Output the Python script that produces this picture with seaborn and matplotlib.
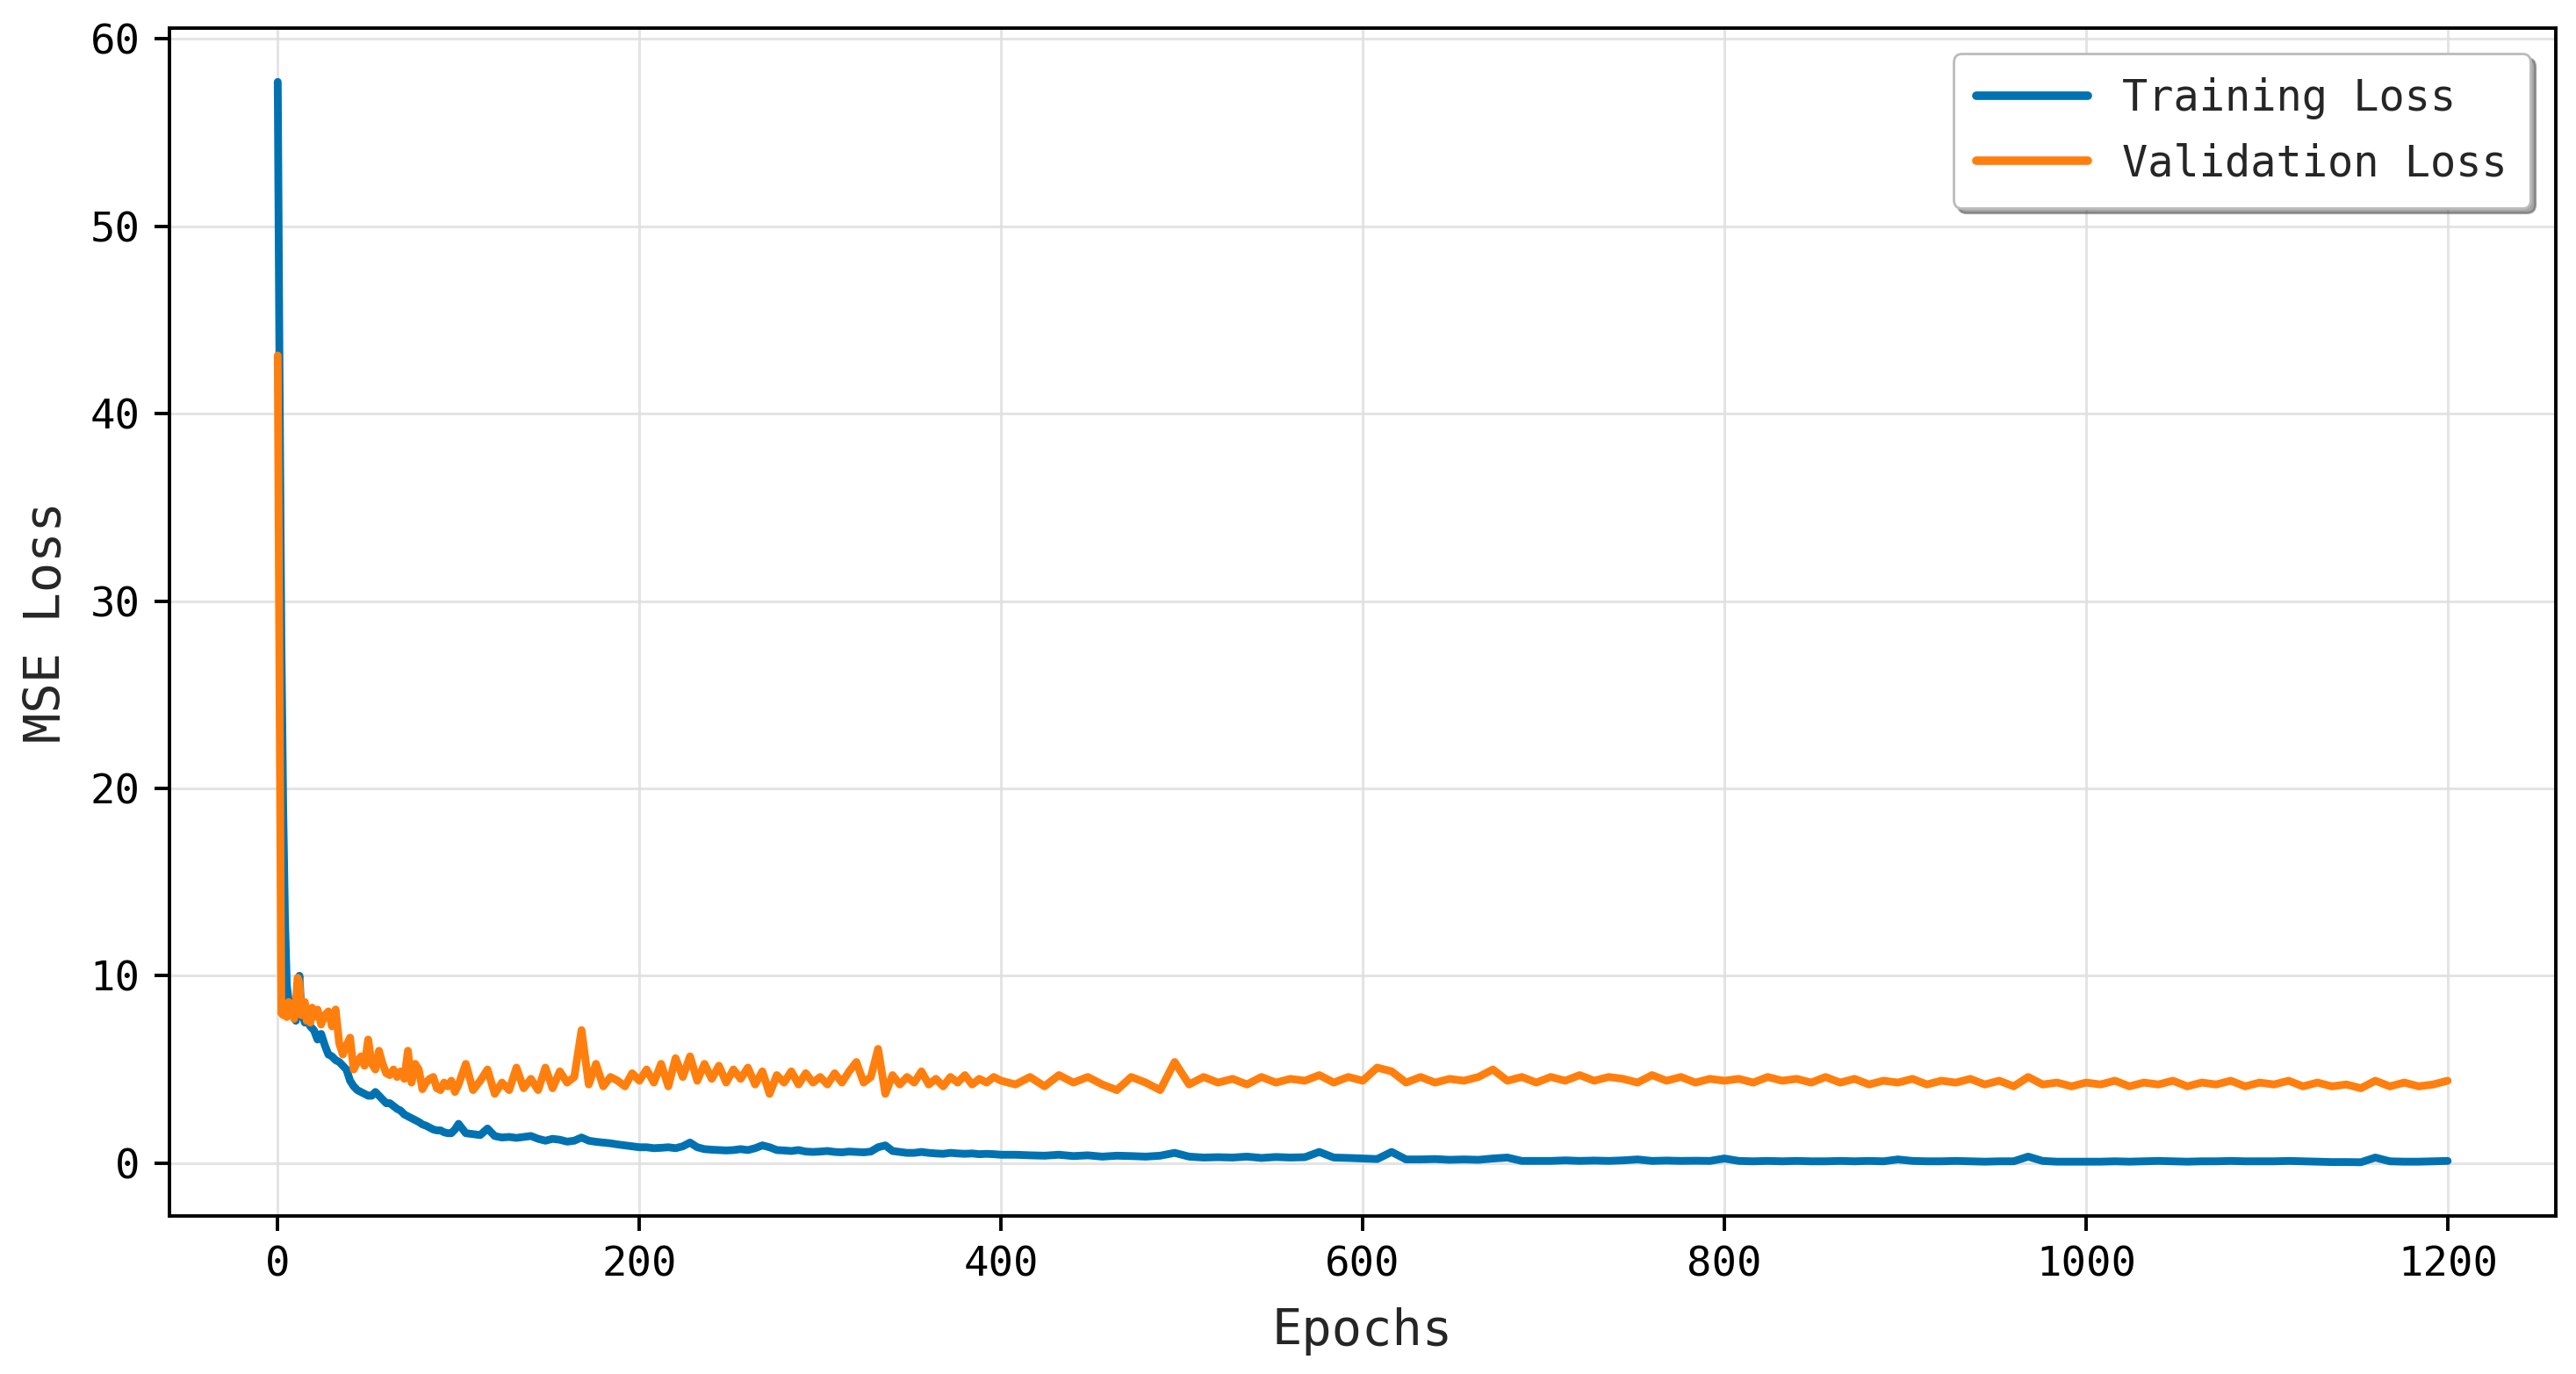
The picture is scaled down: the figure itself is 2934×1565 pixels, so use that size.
import numpy as np
import pandas as pd
import seaborn as sns
from matplotlib import pyplot as plt

sns.set_style('ticks')
plt.rcParams['font.family'] = ['DejaVu Sans Mono', 'DejaVu Sans']

epochs = np.concatenate([np.arange(0, 21), np.arange(22, 101, 2),
                         np.arange(104, 401, 4), np.arange(408, 1201, 8)])

train_a = [57.7, 42.0, 28.0, 19.0, 13.0, 9.5, 8.7, 8.6, 8.4, 7.8,
           7.6, 9.5, 10.0, 8.2, 7.8, 7.5, 7.6, 7.5, 7.3, 7.2, 7.1]
train_b = [6.6, 6.9, 6.3, 5.8, 5.7, 5.5, 5.4, 5.2, 5.0, 4.4,
           4.1, 3.9, 3.8, 3.7, 3.6, 3.6, 3.8, 3.6, 3.4, 3.2,
           3.2, 3.05, 2.9, 2.8, 2.6, 2.5, 2.4, 2.3, 2.2, 2.07,
           2.0, 1.9, 1.8, 1.75, 1.75, 1.65, 1.6, 1.6, 1.8, 2.1]
train_c = [1.6, 1.55, 1.5, 1.85, 1.45, 1.37, 1.4, 1.35, 1.4, 1.45,
           1.3, 1.2, 1.3, 1.25, 1.15, 1.2, 1.37, 1.2, 1.14, 1.1,
           1.06, 1.0, 0.95, 0.9, 0.85, 0.85, 0.8, 0.82, 0.85, 0.8,
           0.9, 1.1, 0.85, 0.75, 0.72, 0.7, 0.68, 0.7, 0.75, 0.7,
           0.8, 0.95, 0.85, 0.7, 0.68, 0.65, 0.7, 0.62, 0.6, 0.62,
           0.65, 0.6, 0.58, 0.62, 0.6, 0.58, 0.62, 0.85, 0.95, 0.65,
           0.6, 0.55, 0.55, 0.6, 0.55, 0.52, 0.5, 0.55, 0.52, 0.5,
           0.52, 0.48, 0.5, 0.48, 0.45]
train_d = [0.45, 0.42, 0.4, 0.45, 0.38, 0.42, 0.35, 0.4, 0.38, 0.35, 0.4, 0.55,
           0.35, 0.3, 0.32, 0.3, 0.35, 0.28, 0.33, 0.3, 0.32, 0.6, 0.3, 0.28, 0.25,
           0.22, 0.6, 0.2, 0.2, 0.22, 0.18, 0.2, 0.18, 0.25, 0.3, 0.12, 0.12,
           0.12, 0.15, 0.12, 0.14, 0.12, 0.15, 0.2, 0.12, 0.14, 0.12, 0.13, 0.12, 0.25,
           0.12, 0.1, 0.12, 0.1, 0.12, 0.1, 0.1, 0.12, 0.1, 0.12, 0.1, 0.2,
           0.12, 0.1, 0.1, 0.12, 0.1, 0.08, 0.1, 0.1, 0.35, 0.12, 0.08, 0.08, 0.08,
           0.08, 0.1, 0.08, 0.1, 0.12, 0.1, 0.08, 0.1, 0.1, 0.12, 0.1, 0.1,
           0.1, 0.12, 0.1, 0.08, 0.06, 0.06, 0.05, 0.3, 0.1, 0.08, 0.08, 0.1, 0.12]

val_a = [43.1, 25.0, 8.0, 7.9, 8.3, 7.8, 8.6, 7.9, 8.4, 7.7,
         8.6, 9.9, 9.6, 7.9, 8.4, 8.6, 7.6, 8.1, 7.5, 8.3, 7.8]
val_b = [8.2, 7.4, 7.9, 8.1, 7.3, 8.2, 6.4, 5.8, 6.3, 6.7,
         5.0, 5.4, 5.7, 5.2, 6.6, 5.3, 5.0, 6.0, 5.3, 4.8,
         4.7, 5.0, 4.6, 4.9, 4.5, 6.0, 4.3, 5.3, 5.0, 3.95,
         4.3, 4.5, 4.6, 4.0, 3.9, 4.3, 4.1, 4.4, 3.8, 4.2]
val_c = [5.3, 3.9, 4.4, 5.0, 3.7, 4.3, 3.9, 5.1, 4.0, 4.5,
         3.9, 5.1, 4.0, 4.9, 4.3, 4.6, 7.1, 4.2, 5.3, 4.1,
         4.6, 4.4, 4.1, 4.8, 4.4, 5.0, 4.3, 5.3, 4.1, 5.6,
         4.6, 5.7, 4.4, 5.3, 4.5, 5.2, 4.3, 5.0, 4.5, 5.1,
         4.2, 4.9, 3.7, 4.7, 4.3, 4.9, 4.2, 4.8, 4.3, 4.6,
         4.2, 4.8, 4.3, 4.9, 5.4, 4.3, 4.6, 6.1, 3.7, 4.7,
         4.2, 4.6, 4.3, 4.9, 4.2, 4.5, 4.1, 4.6, 4.3, 4.7,
         4.2, 4.5, 4.3, 4.6, 4.4]
val_d = [4.2, 4.6, 4.1, 4.7, 4.3, 4.6, 4.2, 3.9, 4.6, 4.3, 3.9, 5.4,
         4.2, 4.6, 4.3, 4.5, 4.2, 4.6, 4.3, 4.5, 4.4, 4.7, 4.3, 4.6, 4.4,
         5.1, 4.9, 4.3, 4.6, 4.3, 4.5, 4.4, 4.6, 5.0, 4.4, 4.6, 4.3,
         4.6, 4.4, 4.7, 4.4, 4.6, 4.5, 4.3, 4.7, 4.4, 4.6, 4.3, 4.5, 4.4,
         4.5, 4.3, 4.6, 4.4, 4.5, 4.3, 4.6, 4.3, 4.5, 4.2, 4.4, 4.3,
         4.5, 4.2, 4.4, 4.3, 4.5, 4.2, 4.4, 4.1, 4.6, 4.2, 4.3, 4.1, 4.3,
         4.2, 4.4, 4.1, 4.3, 4.2, 4.4, 4.1, 4.3, 4.2, 4.4, 4.1, 4.3,
         4.2, 4.4, 4.1, 4.3, 4.1, 4.2, 4.0, 4.4, 4.1, 4.3, 4.1, 4.2, 4.4]

train_loss = train_a + train_b + train_c + train_d
val_loss = val_a + val_b + val_c + val_d
assert len(train_loss) == len(epochs) == len(val_loss)

series_names = ['Training Loss', 'Validation Loss']
colors = ['#0072B2', '#FF7F0E']

df = pd.DataFrame({
    'epoch': np.concatenate([epochs, epochs]),
    'loss': train_loss + val_loss,
    'series': [series_names[0]] * len(epochs) + [series_names[1]] * len(epochs),
})

fig, ax = plt.subplots(figsize=(14.67, 7.825), dpi=200)
fig.subplots_adjust(left=0.0657, right=0.9923, top=0.9797, bottom=0.1148)

sns.lineplot(data=df, x='epoch', y='loss', hue='series', palette=colors,
             linewidth=3.2, ax=ax, legend=False)

ax.grid(True, color='#dedede', linewidth=1.1, alpha=0.8)
ax.set_axisbelow(True)
for s in ax.spines.values():
    s.set_color('black')
    s.set_linewidth(1.4)
ax.tick_params(direction='out', length=6, width=1.4, pad=6, colors='black', labelsize=17)

ax.set_xlabel('Epochs', fontsize=20.5, labelpad=9)
ax.set_ylabel('MSE Loss', fontsize=20.5, labelpad=8)

handles = [plt.Line2D([], [], color=c, linewidth=3.5) for c in colors]
leg = ax.legend(handles, series_names, loc='upper right', fontsize=17.5,
                frameon=True, fancybox=True, shadow=True, framealpha=1,
                edgecolor='#bbbbbb', handlelength=2.6, handletextpad=0.8,
                labelspacing=0.55, borderpad=0.55, borderaxespad=0.6)

plt.savefig('out.png', dpi=200)
